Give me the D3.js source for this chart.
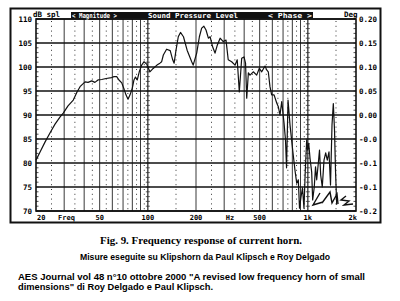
<!DOCTYPE html>
<html><head><meta charset="utf-8">
<script src="https://cdn.jsdelivr.net/npm/d3@7"></script>
<style>html,body{margin:0;padding:0;background:#fff;}svg{display:block;}</style>
</head><body>
<svg id="c" width="400" height="301"></svg>
<script>
// ---- data ----
const freqHz = [20,21.2,22.8,24.5,26.3,28.3,29.6,31.7,34.2,36.1,37.7,40.5,42.3,44.6,46.7,48.8,51.5,54.8,59.4,61.5,63.9,66.0,68.7,71.0,73.0,75.2,77.4,80.0,81.9,83.7,85.9,88.4,91.5,94.6,98.4,103,108,114,119,122,125,131,138,143,146,150,155,160,167,176,188,192,202,210,217,224,231,239,245,254,263,272,283,296,308,318,334,351,362,373,386,399,408,415,425,435,456,479,497,515,540,553,566,580,594,615,639,654,670,687,710,725,736,752,774,804,831,852,872,887,906,926,946,964,984,998,1013,1032,1057,1072,1097,1117,1136,1163,1183,1203,1231,1262,1293,1323,1356,1386,1416,1443,1468,1489,1515];
const splDb = [80.6,82.3,84.4,86.3,88.1,89.6,90.4,91.9,93.1,94.8,95.9,96.9,96.8,97.1,96.8,97.3,97.4,97.6,97.8,98.0,98.0,97.3,96.7,95.4,94.2,93.3,94.2,95.6,97.3,97.9,97.3,99.0,100.4,101.1,100.6,99.0,99.7,100.4,100.8,101.1,102.5,103.7,103.4,101.5,100.8,103.5,106.3,107.2,106.3,103.5,101.1,100.4,102.9,106.3,108.1,108.5,107.7,106.0,106.3,104.2,102.9,104.6,106.0,105.3,105.6,101.5,101.1,100.4,101.5,94.8,101.8,102.1,100.8,93.5,98.8,98.3,99.0,98.3,99.7,99.0,100.2,99.4,99.0,95.9,94.2,94.2,92.5,91.7,90.0,92.8,88.3,84.8,79.0,93.1,87.9,82.7,78.5,75.8,76.5,70.6,72.9,74.8,70.6,78.5,84.8,82.7,84.1,81.0,78.1,72.3,75.0,79.2,76.5,80.0,82.7,77.5,75.0,80.6,82.1,80.6,82.3,75.4,87.9,92.4,86.9,78.5,71.3];
const dbTicks = [70,75,80,85,90,95,100,105,110];
const dbTickLabels = ["70","75","80","85","90","95","100","105","110"];
const phaseTickLabels = ["-0.2","-0.1","-0.1","-0.0","0.00","0.05","0.10","0.15","0.20"];
const freqTicks = [20,50,100,200,500,1000,2000];
const freqTickLabels = ["20","50","100","200","500","1k","2k"];
const solidGridFreqs = [30,40,50,60,70,80,90,100,200,300,400,500,600,700,800,900,1000];
const dottedGridFreqs = [25,35,45,55,65,75,85,95,150,250,350,450,550,650,750,850,950,1500];
const headerTexts = ["< Magnitude >","Sound Pressure Level","< Phase >"];
const caption1 = "Fig. 9. Frequency response of current horn.";
const caption2 = "Misure eseguite su Klipshorn da Paul Klipsch e Roy Delgado";
const note1 = "AES Journal vol 48 n\u00b010 ottobre 2000  \"A revised low frequency horn of small";
const note2 = "dimensions\" di Roy Delgado e Paul Klipsch.";

const svg = d3.select("#c");
const L = 36, R = 356, T = 19, B = 211;
const x = d3.scaleLog().domain([20,2000]).range([L,R]);
const y = d3.scaleLinear().domain([70,110]).range([B,T]);
const mono = "'DejaVu Sans Mono', monospace";

svg.append("rect").attr("width",400).attr("height",301).attr("fill","#fff");
// outer frame
svg.append("rect").attr("x",10.5).attr("y",8.5).attr("width",370).attr("height",214)
  .attr("fill","none").attr("stroke","#111").attr("stroke-width",2);

const g = svg.append("g");
// dotted verticals
g.selectAll("line.dv").data(dottedGridFreqs).join("line")
  .attr("x1",d=>x(d)).attr("x2",d=>x(d)).attr("y1",T+2).attr("y2",B)
  .attr("stroke","#333").attr("stroke-width",1).attr("stroke-dasharray","1,3.8");
// solid verticals
g.selectAll("line.sv").data(solidGridFreqs).join("line")
  .attr("x1",d=>x(d)).attr("x2",d=>x(d)).attr("y1",T).attr("y2",B)
  .attr("stroke","#222").attr("stroke-width",d=>(d===100||d===1000)?1.2:0.9);
// decade lines minor ticks
const minorDb = d3.range(70,110.01,1);
[100,1000].forEach(f=>{
  g.selectAll(null).data(minorDb).join("line")
    .attr("x1",x(f)-2).attr("x2",x(f)+2).attr("y1",d=>y(d)).attr("y2",d=>y(d))
    .attr("stroke","#333").attr("stroke-width",0.8);
});
// horizontals
g.selectAll("line.h").data(dbTicks).join("line")
  .attr("x1",L).attr("x2",R).attr("y1",d=>y(d)).attr("y2",d=>y(d))
  .attr("stroke","#111").attr("stroke-width",1.3);
// edge minor ticks
g.selectAll("line.lt").data(minorDb).join("line")
  .attr("x1",L).attr("x2",L+2.5).attr("y1",d=>y(d)).attr("y2",d=>y(d)).attr("stroke","#222").attr("stroke-width",0.8);
g.selectAll("line.rt").data(minorDb).join("line")
  .attr("x1",R-2.5).attr("x2",R).attr("y1",d=>y(d)).attr("y2",d=>y(d)).attr("stroke","#222").attr("stroke-width",0.8);
// plot border
g.append("rect").attr("x",L).attr("y",T).attr("width",R-L).attr("height",B-T)
  .attr("fill","none").attr("stroke","#111").attr("stroke-width",1.6);

// curve
const pts = freqHz.map((f,i)=>[f,splDb[i]]);
g.append("path").datum(pts)
  .attr("d",d3.line().x(d=>x(d[0])).y(d=>y(d[1])))
  .attr("fill","none").attr("stroke","#111").attr("stroke-width",1.2).attr("stroke-linejoin","round");

// signature scribble (decorative)
svg.append("path")
  .attr("d","M320,193 L313,205 L323,202 M322,203 L330,192 L332,203 L337,194 L338,204 M346,196 L341,200 L349,201 L344,205 L353,204")
  .attr("fill","none").attr("stroke","#111").attr("stroke-width",1.4);

// left labels
svg.selectAll("text.yl").data(dbTicks).join("text")
  .attr("x",32).attr("y",d=>y(d)+2.8).attr("text-anchor","end")
  .attr("font-family",mono).attr("font-weight","bold").attr("font-size",7.5)
  .text((d,i)=>dbTickLabels[i]);
// right labels
svg.selectAll("text.yr").data(dbTicks).join("text")
  .attr("x",359).attr("y",d=>y(d)+2.8).attr("text-anchor","start")
  .attr("font-family",mono).attr("font-weight","bold").attr("font-size",7.5)
  .text((d,i)=>phaseTickLabels[i]);
// bottom labels
svg.selectAll("text.xl").data(freqTicks).join("text")
  .attr("x",(d,i)=> i===0 ? x(d)+1 : (i===freqTicks.length-1 ? x(d)+1 : x(d)))
  .attr("y",219.5)
  .attr("text-anchor",(d,i)=> i===0 ? "start" : (i===freqTicks.length-1 ? "end" : "middle"))
  .attr("font-family",mono).attr("font-weight","bold").attr("font-size",7)
  .text((d,i)=>freqTickLabels[i]);
svg.append("text").attr("x",x(31)).attr("y",219.5).attr("text-anchor","middle")
  .attr("font-family",mono).attr("font-weight","bold").attr("font-size",7).text("Freq");
svg.append("text").attr("x",x(326)).attr("y",219.5).attr("text-anchor","middle")
  .attr("font-family",mono).attr("font-weight","bold").attr("font-size",7).text("Hz");

// header
svg.append("text").attr("x",33).attr("y",17).attr("font-family",mono).attr("font-weight","bold")
  .attr("font-size",7.5).text("dB spl");
svg.append("rect").attr("x",71).attr("y",12).attr("width",242).attr("height",6.5).attr("fill","#111");
const hx = [72,148,268], hw=[45,90,44];
svg.selectAll("text.hd").data(headerTexts).join("text")
  .attr("x",(d,i)=>hx[i]).attr("y",17.6).attr("fill","#fff")
  .attr("font-family",mono).attr("font-weight","bold").attr("font-size",7)
  .attr("textLength",(d,i)=>hw[i]).attr("lengthAdjust","spacingAndGlyphs").text(d=>d);
svg.append("text").attr("x",344).attr("y",17).attr("font-family",mono).attr("font-weight","bold")
  .attr("font-size",7.5).text("Deg");

// captions
svg.append("text").attr("x",100).attr("y",243.5)
  .attr("font-family","'Liberation Serif', 'Times New Roman', serif").attr("font-weight","bold").attr("font-size",11)
  .attr("textLength",202).attr("lengthAdjust","spacingAndGlyphs").text(caption1);
svg.append("text").attr("x",80).attr("y",260)
  .attr("font-family","'Liberation Sans', Arial, sans-serif").attr("font-weight","bold").attr("font-size",8.5)
  .attr("textLength",250).attr("lengthAdjust","spacingAndGlyphs").text(caption2);
svg.append("text").attr("x",18).attr("y",280)
  .attr("font-family","'Liberation Sans', Arial, sans-serif").attr("font-weight","bold").attr("font-size",8.5)
  .attr("textLength",347).attr("lengthAdjust","spacingAndGlyphs").text(note1);
svg.append("text").attr("x",18).attr("y",290)
  .attr("font-family","'Liberation Sans', Arial, sans-serif").attr("font-weight","bold").attr("font-size",8.5)
  .attr("textLength",195).attr("lengthAdjust","spacingAndGlyphs").text(note2);
</script>
</body></html>
